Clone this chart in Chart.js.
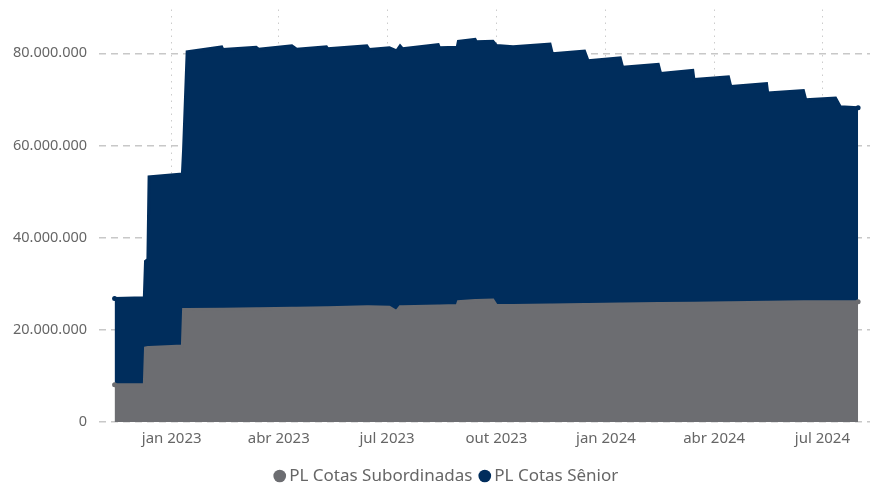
<!DOCTYPE html>
<html>
<head>
<meta charset="utf-8">
<script src="https://cdn.jsdelivr.net/npm/chart.js@4.4.1/dist/chart.umd.min.js"></script>
<style>
  html, body { margin: 0; padding: 0; background: #fff; }
  #wrap { width: 875px; height: 484px; position: relative; }
</style>
</head>
<body>
<div id="wrap"><canvas id="chart"></canvas></div>
<script>
// datas dos pontos (vertices das linhas)
var datas = [
  '2022-11-14', '2022-12-09', '2022-12-10', '2022-12-12', '2022-12-13',
  '2023-01-10', '2023-01-11', '2023-01-14', '2023-02-12', '2023-02-13',
  '2023-03-13', '2023-03-15', '2023-04-12', '2023-04-16', '2023-05-11',
  '2023-05-12', '2023-06-14', '2023-06-16', '2023-07-03', '2023-07-09',
  '2023-07-12', '2023-07-14', '2023-08-13', '2023-08-14', '2023-08-29',
  '2023-08-30', '2023-09-13', '2023-09-14', '2023-09-28', '2023-10-01',
  '2023-10-15', '2023-11-15', '2023-11-17', '2023-12-14', '2023-12-17',
  '2024-01-13', '2024-01-15', '2024-02-14', '2024-02-16', '2024-03-14',
  '2024-03-15', '2024-04-13', '2024-04-15', '2024-05-15', '2024-05-16',
  '2024-06-15', '2024-06-17', '2024-07-12', '2024-07-16', '2024-07-31'
];

// PL Cotas Subordinadas (milhoes)
var subordinadas = [
  8.1, 8.1, 16.1, 16.2, 16.2,
  16.5, 24.4, 24.4, 24.5, 24.5,
  24.6, 24.6, 24.7, 24.7, 24.8,
  24.8, 25.0, 25.0, 24.9, 24.0,
  25.0, 25.0, 25.2, 25.2, 25.3,
  26.1, 26.4, 26.4, 26.5, 25.3,
  25.3, 25.4, 25.4, 25.5, 25.5,
  25.6, 25.6, 25.7, 25.7, 25.8,
  25.8, 25.9, 25.9, 26.0, 26.0,
  26.1, 26.1, 26.1, 26.1, 26.1
];

// PL Cotas Senior (milhoes)
var senior = [
  18.7, 18.9, 18.8, 19.1, 37.0,
  37.3, 34.7, 55.9, 56.9, 56.3,
  56.7, 56.3, 56.9, 56.2, 56.6,
  56.2, 56.6, 55.8, 56.3, 56.5,
  56.6, 56.0, 56.7, 56.0, 56.0,
  56.5, 56.6, 56.1, 56.1, 56.4,
  56.1, 56.6, 54.5, 55.0, 52.9,
  53.4, 51.4, 51.9, 49.9, 50.5,
  48.5, 49.0, 46.9, 47.4, 45.4,
  45.8, 43.8, 44.2, 42.3, 42.1
];

var ticksX = ['2023-01-01', '2023-04-01', '2023-07-01', '2023-10-01', '2024-01-01', '2024-04-01', '2024-07-01'];
var ticksY = [0, 20000000, 40000000, 60000000, 80000000];
var meses = ['jan', 'fev', 'mar', 'abr', 'mai', 'jun', 'jul', 'ago', 'set', 'out', 'nov', 'dez'];

function ms(s) {
  var p = s.split('-');
  return Date.UTC(+p[0], +p[1] - 1, +p[2]);
}

function pontos(arr) {
  return datas.map(function (d, i) { return { x: ms(d), y: arr[i] * 1e6 }; });
}

function fmtNum(v) {
  return String(Math.round(v)).replace(/\B(?=(\d{3})+(?!\d))/g, '.');
}

function pontaRaio(ctx) {
  return (ctx.dataIndex === 0 || ctx.dataIndex === datas.length - 1) ? 2.5 : 0;
}

// empurra a legenda um pouco pra direita
var moveLegenda = {
  id: 'moveLegenda',
  afterLayout: function (chart) {
    chart.legend.left += 13;
    chart.legend.right += 13;
  }
};

Chart.defaults.font.family = "'Segoe UI', 'Noto Sans', sans-serif";
Chart.defaults.color = '#666666';

new Chart(document.getElementById('chart'), {
  type: 'line',
  data: {
    datasets: [{
      label: 'PL Cotas Subordinadas',
      data: pontos(subordinadas),
      borderColor: '#6c6d71',
      backgroundColor: '#6c6d71',
      fill: 'origin',
      borderWidth: 3,
      pointRadius: pontaRaio,
      pointBackgroundColor: '#6c6d71',
      pointBorderWidth: 0,
      tension: 0
    }, {
      label: 'PL Cotas Sênior',
      data: pontos(senior),
      borderColor: '#002d5c',
      backgroundColor: '#002d5c',
      fill: '-1',
      borderWidth: 3,
      pointRadius: pontaRaio,
      pointBackgroundColor: '#002d5c',
      pointBorderWidth: 0,
      tension: 0
    }]
  },
  plugins: [moveLegenda],
  options: {
    responsive: true,
    maintainAspectRatio: false,
    animation: false,
    layout: { padding: { left: 1, right: 5, top: 9.5, bottom: -10.5 } },
    plugins: {
      tooltip: { enabled: false },
      legend: {
        position: 'bottom',
        labels: {
          usePointStyle: true,
          pointStyle: 'circle',
          boxWidth: 2,
          boxHeight: 9,
          padding: 11.4,
          color: '#666666',
          font: { size: 17 }
        }
      }
    },
    scales: {
      x: {
        type: 'linear',
        min: ms('2022-11-01'),
        max: ms('2024-08-10'),
        afterBuildTicks: function (scale) {
          scale.ticks = ticksX.map(function (d) { return { value: ms(d) }; });
        },
        ticks: {
          autoSkip: false,
          maxRotation: 0,
          padding: 8,
          font: { size: 15 },
          callback: function (v) {
            var d = new Date(v);
            return meses[d.getUTCMonth()] + ' ' + d.getUTCFullYear();
          }
        },
        grid: { color: '#cccccc', lineWidth: 1, drawTicks: false },
        border: { display: false, dash: [1.5, 5] }
      },
      y: {
        stacked: true,
        min: 0,
        max: 89500000,
        afterBuildTicks: function (scale) {
          scale.ticks = ticksY.map(function (v) { return { value: v }; });
        },
        afterFit: function (scale) {
          scale.paddingTop = 0;
          scale.paddingBottom = 0;
        },
        ticks: {
          padding: 12,
          font: { size: 14.5 },
          callback: function (v) { return fmtNum(v); }
        },
        grid: { color: '#c8c8c8', lineWidth: 1.5, drawTicks: false },
        border: { display: false, dash: [7, 5] }
      }
    }
  }
});
</script>
</body>
</html>
